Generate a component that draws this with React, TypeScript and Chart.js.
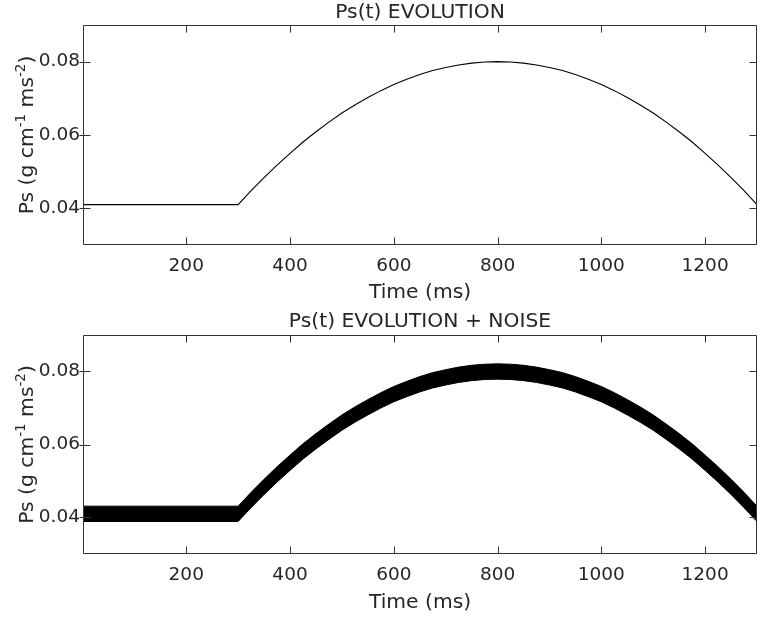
import React, { useEffect, useRef } from "react";
import { Chart, registerables } from "chart.js";

Chart.register(...registerables);

// ---- data ----
const timeMs = [1, 300, 325, 350, 375, 400, 425, 450, 475, 500, 525, 550, 575, 600, 625, 650, 675, 700, 725, 750, 775, 800, 825, 850, 875, 900, 925, 950, 975, 1000, 1025, 1050, 1075, 1100, 1125, 1150, 1175, 1200, 1225, 1250, 1275, 1300];
const psClean = [0.041, 0.041, 0.0448, 0.0484, 0.0518, 0.055, 0.0581, 0.0609, 0.0635, 0.066, 0.0682, 0.0702, 0.0721, 0.0738, 0.0752, 0.0765, 0.0776, 0.0784, 0.0791, 0.0796, 0.0799, 0.08, 0.0799, 0.0796, 0.0791, 0.0784, 0.0776, 0.0765, 0.0752, 0.0738, 0.0721, 0.0702, 0.0682, 0.066, 0.0635, 0.0609, 0.0581, 0.055, 0.0518, 0.0484, 0.0448, 0.041];
const psNoiseUpper = [0.0431, 0.0431, 0.0469, 0.0505, 0.0539, 0.0571, 0.0602, 0.063, 0.0656, 0.0681, 0.0703, 0.0723, 0.0742, 0.0759, 0.0773, 0.0786, 0.0797, 0.0805, 0.0812, 0.0817, 0.082, 0.0821, 0.082, 0.0817, 0.0812, 0.0805, 0.0797, 0.0786, 0.0773, 0.0759, 0.0742, 0.0723, 0.0703, 0.0681, 0.0656, 0.063, 0.0602, 0.0571, 0.0539, 0.0505, 0.0469, 0.0431];
const psNoiseLower = [0.0389, 0.0389, 0.0427, 0.0463, 0.0497, 0.0529, 0.056, 0.0588, 0.0614, 0.0639, 0.0661, 0.0681, 0.07, 0.0717, 0.0731, 0.0744, 0.0755, 0.0763, 0.077, 0.0775, 0.0778, 0.0779, 0.0778, 0.0775, 0.077, 0.0763, 0.0755, 0.0744, 0.0731, 0.0717, 0.07, 0.0681, 0.0661, 0.0639, 0.0614, 0.0588, 0.056, 0.0529, 0.0497, 0.0463, 0.0427, 0.0389];
const xTickValues = [200, 400, 600, 800, 1000, 1200];
const yTickValues = [0.04, 0.06, 0.08];
const topTitle = "Ps(t) EVOLUTION";
const bottomTitle = "Ps(t) EVOLUTION + NOISE";
const xLabel = "Time (ms)";
// y label pieces: [text, isSuperscript]
const yLabelParts: [string, boolean][] = [
  ["Ps (g cm", false],
  ["-1", true],
  [" ms", false],
  ["-2", true],
  [")", false],
];
const X_MIN = 1;
const X_MAX = 1300;
const Y_MIN = 0.03;
const Y_MAX = 0.09;

const FONT = "'DejaVu Sans', sans-serif";
const INK = "#262626";
const LINE = "#333333";
const TICK_SIZE = 18.5;
const LABEL_SIZE = 20.3;
const SUP_SIZE = 13.5;
const TITLE_SIZE = 20.3;

function pts(ys: number[]) {
  return timeMs.map((t, i) => ({ x: t, y: ys[i] }));
}

const framePlugin = {
  id: "frame",
  afterDraw(chart: any, _args: any, opts: any) {
    const { ctx, chartArea, scales } = chart;
    const { left, right, top, bottom } = chartArea;
    const L = Math.round(left) + 0.5;
    const R = Math.round(right) - 0.5;
    const T = Math.round(top) + 0.5;
    const B = Math.round(bottom) - 0.5;
    ctx.save();
    ctx.strokeStyle = LINE;
    ctx.lineWidth = 1;
    ctx.beginPath();
    ctx.rect(L, T, R - L, B - T);
    for (const v of xTickValues) {
      const px = Math.round(scales.x.getPixelForValue(v)) + 0.5;
      ctx.moveTo(px, B);
      ctx.lineTo(px, B - 7);
      ctx.moveTo(px, T);
      ctx.lineTo(px, T + 7);
    }
    for (const v of yTickValues) {
      const py = Math.round(scales.y.getPixelForValue(v)) + 0.5;
      ctx.moveTo(L - 4, py);
      ctx.lineTo(L + 7, py);
      ctx.moveTo(R, py);
      ctx.lineTo(R - 7, py);
    }
    ctx.stroke();

    ctx.fillStyle = INK;
    if (opts && opts.title) {
      ctx.font = `${TITLE_SIZE}px ${FONT}`;
      ctx.textAlign = "center";
      ctx.textBaseline = "alphabetic";
      ctx.fillText(opts.title, (left + right) / 2, opts.baseline);
    }

    // rotated y-axis label with real superscripts
    const mainFont = `${LABEL_SIZE}px ${FONT}`;
    const supFont = `${SUP_SIZE}px ${FONT}`;
    let total = 0;
    const widths: number[] = [];
    for (const [txt, sup] of yLabelParts) {
      ctx.font = sup ? supFont : mainFont;
      const w = ctx.measureText(txt).width;
      widths.push(w);
      total += w;
    }
    ctx.translate(33, (top + bottom) / 2);
    ctx.rotate(-Math.PI / 2);
    ctx.textAlign = "left";
    ctx.textBaseline = "alphabetic";
    let cx = -total / 2;
    yLabelParts.forEach(([txt, sup], i) => {
      ctx.font = sup ? supFont : mainFont;
      ctx.fillText(txt, cx, sup ? -8.5 : 0);
      cx += widths[i];
    });
    ctx.restore();
  },
};

function makeScales(xAxisH: number) {
  const tickFont = { family: FONT, size: TICK_SIZE };
  const labelFont = { family: FONT, size: LABEL_SIZE };
  return {
    x: {
      type: "linear",
      min: X_MIN,
      max: X_MAX,
      afterBuildTicks: (s: any) => {
        s.ticks = xTickValues.map((v) => ({ value: v }));
      },
      afterFit: (s: any) => {
        s.height = xAxisH;
      },
      grid: { display: false, drawTicks: false },
      border: { display: false },
      ticks: { font: tickFont, color: INK, padding: 10.5, maxRotation: 0, autoSkip: false, callback: (v: any) => String(v) },
      title: { display: true, text: xLabel, font: labelFont, color: INK, padding: { top: 0, bottom: 3.8 } },
    },
    y: {
      type: "linear",
      min: Y_MIN,
      max: Y_MAX,
      afterBuildTicks: (s: any) => {
        s.ticks = yTickValues.map((v) => ({ value: v }));
      },
      afterFit: (s: any) => {
        s.width = 83;
      },
      grid: { display: false, drawTicks: false },
      border: { display: false },
      ticks: { font: tickFont, color: INK, padding: 3, autoSkip: false, callback: (v: any) => Number(v).toFixed(2) },
      title: { display: false },
    },
  };
}

function PsChart(props: { height: number; padTop: number; xAxisH: number; title: string; baseline: number; noisy: boolean }) {
  const ref = useRef<HTMLCanvasElement | null>(null);
  useEffect(() => {
    if (!ref.current) return;
    const datasets: any[] = props.noisy
      ? [
          { data: pts(psNoiseUpper), borderColor: "#000", backgroundColor: "#000", borderWidth: 1, pointRadius: 0, fill: "+1", tension: 0 },
          { data: pts(psNoiseLower), borderColor: "#000", backgroundColor: "#000", borderWidth: 1, pointRadius: 0, fill: false, tension: 0 },
        ]
      : [{ data: pts(psClean), borderColor: "#000", borderWidth: 1.1, pointRadius: 0, fill: false, tension: 0 }];
    const chart = new Chart(ref.current, {
      type: "line",
      data: { datasets },
      options: {
        animation: false,
        responsive: false,
        devicePixelRatio: 1,
        layout: { padding: { top: props.padTop, right: 1, left: 0, bottom: 0 } },
        plugins: {
          legend: { display: false },
          tooltip: { enabled: false },
          frame: { title: props.title, baseline: props.baseline },
        } as any,
        scales: makeScales(props.xAxisH) as any,
      },
      plugins: [framePlugin],
    } as any);
    return () => chart.destroy();
  }, []);
  return <canvas ref={ref} width={758} height={props.height} style={{ display: "block", width: 758, height: props.height }} />;
}

export default function App() {
  return (
    <div style={{ position: "fixed", left: 0, top: 0, width: 758, height: 619, background: "#fff" }}>
      <PsChart height={309} padTop={25} xAxisH={64} title={topTitle} baseline={18.3} noisy={false} />
      <PsChart height={310} padTop={26} xAxisH={65} title={bottomTitle} baseline={17.7} noisy={true} />
    </div>
  );
}
